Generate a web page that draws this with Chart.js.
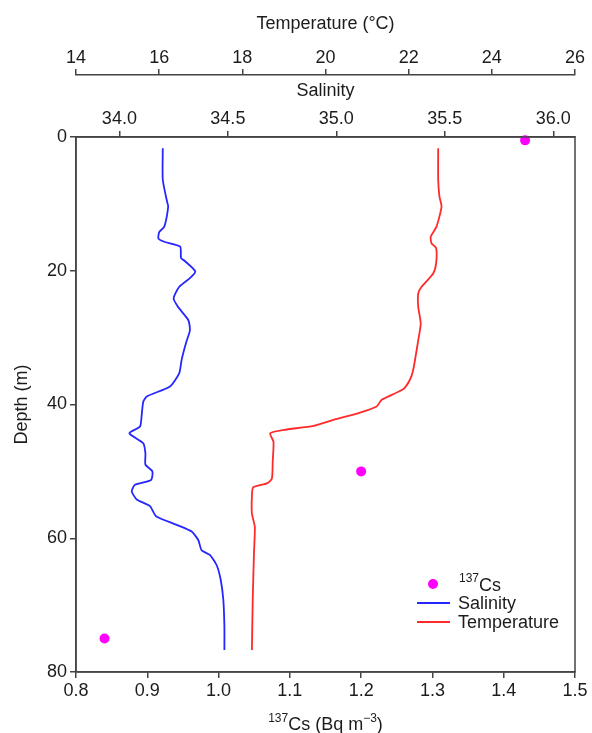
<!DOCTYPE html>
<html>
<head>
<meta charset="utf-8">
<script src="https://cdn.jsdelivr.net/npm/chart.js@4.4.1/dist/chart.umd.min.js"></script>
<style>
  html, body { margin: 0; padding: 0; background: #fff; }
  #wrap { width: 592px; height: 733px; }
</style>
</head>
<body>
<div id="wrap"><canvas id="myChart" width="592" height="733"></canvas></div>
<script>
// profile data
const salDepth = [1.7, 6.4, 9.7, 10.4, 13.4, 14.2, 15.2, 15.7, 16.4, 18.1, 18.5, 20.1, 21.1, 22.4, 24.1, 25.4, 27.4, 28.9, 30.8, 33.3, 35.3, 37.3, 38.8, 39.6, 41.5, 43.3, 44.3, 45.8, 47.3, 49.0, 50.0, 51.3, 52.0, 53.0, 54.2, 55.2, 56.7, 58.0, 59.0, 60.3, 61.8, 62.5, 64.0, 66.2, 69.2, 73.2, 76.7];
const salinity = [34.20, 34.20, 34.22, 34.225, 34.207, 34.184, 34.18, 34.21, 34.28, 34.284, 34.30, 34.35, 34.325, 34.276, 34.25, 34.27, 34.318, 34.325, 34.307, 34.287, 34.276, 34.233, 34.126, 34.11, 34.103, 34.095, 34.046, 34.11, 34.12, 34.12, 34.152, 34.146, 34.072, 34.057, 34.08, 34.141, 34.169, 34.264, 34.333, 34.364, 34.379, 34.417, 34.448, 34.467, 34.479, 34.484, 34.484];

const tempDepth = [1.7, 6.4, 8.9, 10.4, 13.4, 14.9, 15.9, 16.6, 18.9, 20.4, 22.4, 23.4, 25.4, 27.9, 30.4, 34.8, 36.3, 37.7, 39.3, 40.3, 41.2, 42.3, 43.2, 43.8, 44.3, 45.6, 48.6, 51.1, 51.8, 52.4, 53.8, 56.3, 58.3, 62.2, 69.2, 76.7];
const temperature = [22.71, 22.71, 22.74, 22.79, 22.67, 22.53, 22.55, 22.66, 22.66, 22.59, 22.31, 22.23, 22.23, 22.29, 22.23, 22.11, 22.03, 21.87, 21.35, 21.23, 20.83, 20.19, 19.71, 19.0, 18.67, 18.75, 18.73, 18.71, 18.59, 18.26, 18.23, 18.23, 18.30, 18.28, 18.25, 18.23];

const csDepth = [0.5, 50, 75];
const csValues = [1.43, 1.2, 0.84];

const csTicks = [0.8, 0.9, 1.0, 1.1, 1.2, 1.3, 1.4, 1.5];
const salinityTicks = [34.0, 34.5, 35.0, 35.5, 36.0];
const tempTicks = [14, 16, 18, 20, 22, 24, 26];
const depthTicks = [0, 20, 40, 60, 80];

const FONT = "'Liberation Sans', Arial, sans-serif";
const AXIS = '#444';
const TEXT = '#1c1c1c';
const BLUE = '#2626ff';
const RED = '#ff2a2a';
const MAGENTA = '#ff00ff';

function pairs(xs, ys) {
  return xs.map((x, i) => ({ x: x, y: ys[i] }));
}

function fixedTicks(list) {
  return function (scale) { scale.ticks = list.map(v => ({ value: v })); };
}

function axisStyle(extra) {
  return Object.assign({
    grid: { display: true, drawOnChartArea: false, drawTicks: true, tickLength: 6, color: AXIS, lineWidth: 1.5 },
    border: { display: true, color: AXIS, width: 1.5 },
  }, extra);
}

// draws text runs with superscripts, centred on x
function drawRich(ctx, runs, cx, baseY) {
  let total = 0;
  runs.forEach(r => { ctx.font = r[1] + 'px ' + FONT; total += ctx.measureText(r[0]).width; });
  let x = cx - total / 2;
  ctx.textAlign = 'left';
  ctx.textBaseline = 'alphabetic';
  runs.forEach(r => {
    ctx.font = r[1] + 'px ' + FONT;
    ctx.fillText(r[0], x, baseY + r[2]);
    x += ctx.measureText(r[0]).width;
  });
}

const extras = {
  id: 'extras',
  afterDraw(chart) {
    const { ctx, chartArea: a } = chart;
    ctx.save();
    ctx.strokeStyle = AXIS;
    ctx.lineWidth = 1.5;
    ctx.strokeRect(a.left, a.top, a.right - a.left, a.bottom - a.top);

    ctx.fillStyle = TEXT;
    drawRich(ctx, [['137', 12, -8], ['Cs (Bq m', 18, 0], ['\u22123', 12, -8], [')', 18, 0]], (a.left + a.right) / 2, 730);

    // legend
    ctx.fillStyle = MAGENTA;
    ctx.beginPath();
    ctx.arc(433, 584, 5, 0, Math.PI * 2);
    ctx.fill();
    ctx.lineWidth = 1.8;
    ctx.strokeStyle = BLUE;
    ctx.beginPath(); ctx.moveTo(417, 603); ctx.lineTo(450, 603); ctx.stroke();
    ctx.strokeStyle = RED;
    ctx.beginPath(); ctx.moveTo(417, 622); ctx.lineTo(450, 622); ctx.stroke();

    ctx.fillStyle = TEXT;
    ctx.textAlign = 'left';
    ctx.textBaseline = 'alphabetic';
    ctx.font = '12px ' + FONT;
    ctx.fillText('137', 459, 582);
    const w = ctx.measureText('137').width;
    ctx.font = '18px ' + FONT;
    ctx.fillText('Cs', 459 + w, 591);
    ctx.fillText('Salinity', 458, 609);
    ctx.fillText('Temperature', 458, 628);
    ctx.restore();
  }
};

const ctx = document.getElementById('myChart').getContext('2d');
const chart = new Chart(ctx, {
  type: 'scatter',
  data: {
    datasets: [
      {
        label: 'Salinity',
        data: pairs(salinity, salDepth),
        xAxisID: 'xSal',
        yAxisID: 'y',
        showLine: true,
        borderColor: BLUE,
        borderWidth: 1.8,
        pointRadius: 0,
        tension: 0.2,
      },
      {
        label: 'Temperature',
        data: pairs(temperature, tempDepth),
        xAxisID: 'xTemp',
        yAxisID: 'y',
        showLine: true,
        borderColor: RED,
        borderWidth: 1.8,
        pointRadius: 0,
        tension: 0.2,
      },
      {
        label: '137Cs',
        data: pairs(csValues, csDepth),
        xAxisID: 'x',
        yAxisID: 'y',
        showLine: false,
        pointRadius: 5,
        pointBackgroundColor: MAGENTA,
        pointBorderColor: MAGENTA,
        pointBorderWidth: 0,
        clip: false,
      },
    ]
  },
  options: {
    responsive: false,
    animation: false,
    layout: { padding: { left: 0, right: 17, top: 0, bottom: 0 } },
    plugins: { legend: { display: false }, tooltip: { enabled: false } },
    scales: {
      x: axisStyle({
        type: 'linear', position: 'bottom', min: 0.8, max: 1.5,
        afterBuildTicks: fixedTicks(csTicks),
        afterFit: s => { s.height = 61; },
        ticks: { color: TEXT, padding: 2, font: { family: FONT, size: 18 }, maxRotation: 0, callback: v => v.toFixed(1) },
        title: { display: false },
      }),
      xSal: axisStyle({
        type: 'linear', position: 'top', min: 33.8, max: 36.1, weight: 0,
        afterBuildTicks: fixedTicks(salinityTicks),
        afterFit: s => { s.height = 62; },
        ticks: { color: TEXT, padding: 1, font: { family: FONT, size: 18 }, maxRotation: 0, callback: v => v.toFixed(1) },
        title: { display: true, text: 'Salinity', color: TEXT, font: { family: FONT, size: 18 }, padding: { top: 5, bottom: 0 } },
      }),
      xTemp: axisStyle({
        type: 'linear', position: 'top', min: 14, max: 26, weight: 1,
        afterBuildTicks: fixedTicks(tempTicks),
        afterFit: s => { s.height = 75; },
        ticks: { color: TEXT, padding: 0, font: { family: FONT, size: 18 }, maxRotation: 0 },
        title: { display: true, text: 'Temperature (\u00B0C)', color: TEXT, font: { family: FONT, size: 18 }, padding: { top: 13, bottom: 0 } },
      }),
      y: axisStyle({
        type: 'linear', position: 'left', min: 0, max: 80, reverse: true,
        afterBuildTicks: fixedTicks(depthTicks),
        afterFit: s => { s.width = 76; },
        ticks: { color: TEXT, padding: 3, font: { family: FONT, size: 18 } },
        title: { display: true, text: 'Depth (m)', color: TEXT, font: { family: FONT, size: 18 }, padding: { top: 11, bottom: 0 } },
      }),
    }
  },
  plugins: [extras]
});
</script>
</body>
</html>
